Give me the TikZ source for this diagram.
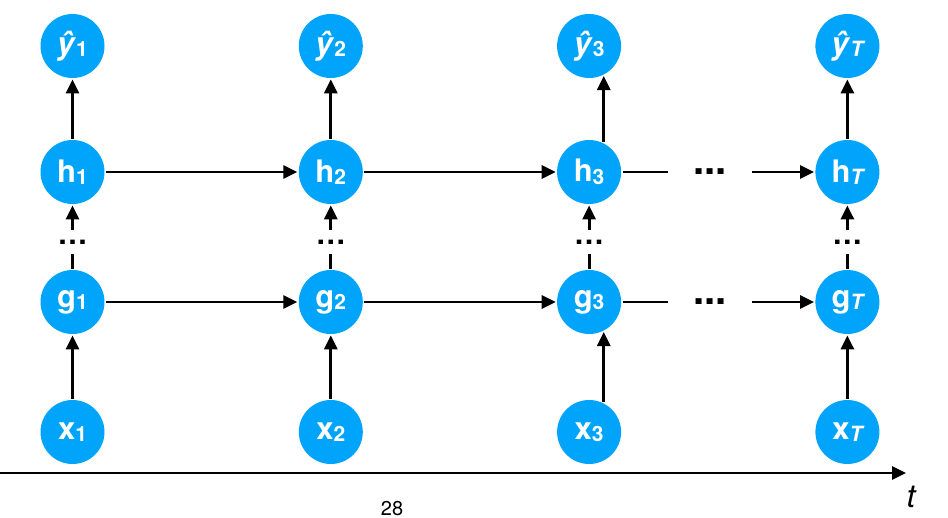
\documentclass[tikz,border=0pt]{standalone}
\usepackage{fontspec}
\setmainfont{TeX Gyre Heros}
\usepackage{tikz}
\usetikzlibrary{arrows.meta,automata}
\definecolor{nodeblue}{RGB}{0,164,250}
\newcommand{\lbl}[2]{#1\raisebox{-2.5pt}{\fontsize{21}{21}\selectfont #2}}

\begin{document}
\begin{tikzpicture}[x=1pt,y=-1pt,->,>={Triangle[length=14pt,width=13pt]},
                    line width=2.8pt,node distance=258.3pt]
  \tikzstyle{every state}=[fill=nodeblue,draw=none,text=white,minimum size=64pt,
                           inner sep=0pt,font=\fontsize{31}{31}\selectfont\bfseries]
  \tikzstyle{vdots}=[minimum height=21pt,inner sep=0pt,font=\fontsize{30}{30}\selectfont\bfseries]
  \tikzstyle{hdots}=[minimum width=82pt,inner sep=0pt,font=\fontsize{40}{40}\selectfont\bfseries]
  \useasboundingbox (0,0) rectangle (948,518);

  % outputs
  \node[state]  (y1) at (72.5,46)     {\lbl{\textit{ŷ}}{1}};
  \node[state]  (y2) [right of=y1]    {\lbl{\textit{ŷ}}{2}};
  \node[state]  (y3) [right of=y2]    {\lbl{\textit{ŷ}}{3}};
  \node[state]  (yT) [right of=y3]    {\lbl{\textit{ŷ}}{\itshape T}};
  % top hidden layer
  \node[state]  (h1) at (72.5,172)    {\lbl{h}{1}};
  \node[state]  (h2) [right of=h1]    {\lbl{h}{2}};
  \node[state]  (h3) [right of=h2]    {\lbl{h}{3}};
  \node[state]  (hT) [right of=h3]    {\lbl{h}{\itshape T}};
  % first hidden layer
  \node[state]  (g1) at (72.5,302)    {\lbl{g}{1}};
  \node[state]  (g2) [right of=g1]    {\lbl{g}{2}};
  \node[state]  (g3) [right of=g2]    {\lbl{g}{3}};
  \node[state]  (gT) [right of=g3]    {\lbl{g}{\itshape T}};
  % inputs
  \node[state]  (x1) at (72.5,432)    {\lbl{x}{1}};
  \node[state]  (x2) [right of=x1]    {\lbl{x}{2}};
  \node[state]  (x3) [right of=x2]    {\lbl{x}{3}};
  \node[state]  (xT) [right of=x3]    {\lbl{x}{\itshape T}};

  \node[vdots]  (v1) at (72.5,242)    {…};
  \node[vdots]  (v2) [right of=v1]    {…};
  \node[vdots]  (v3) [right of=v2]    {…};
  \node[vdots]  (vT) [right of=v3]    {…};
  \node[hdots]  (hd) at (710,172)     {...};
  \node[hdots]  (gd) at (710,302)     {...};

  \path (h1) edge (y1)    (h2) edge (y2)    (h3.64) edge (y3.-64)    (hT) edge (yT)
        (x1) edge (g1)    (x2) edge (g2)    (x3.64) edge (g3.-64)    (xT) edge (gT)
        (h1) edge (h2)    (h2) edge (h3)    (hd) edge (hT)
        (g1) edge (g2)    (g2) edge (g3)    (gd) edge (gT)
        (v1) edge (h1)    (v2) edge (h2)    (v3) edge (h3)    (vT) edge (hT);
  \path[-] (g1) edge (v1) (g2) edge (v2)    (g3) edge (v3)    (gT) edge (vT)
        (h3) edge (hd)    (g3) edge (gd);

  % time axis
  \coordinate (ts) at (0,473);
  \coordinate (te) at (906,473);
  \draw (ts) -- (te);
  \node (tl) at (911,497) {\fontsize{32}{32}\selectfont\itshape t};
  \node[anchor=base,inner sep=0pt] (pg) at (392,515) {\fontsize{20}{20}\selectfont 28};
\end{tikzpicture}
\end{document}
